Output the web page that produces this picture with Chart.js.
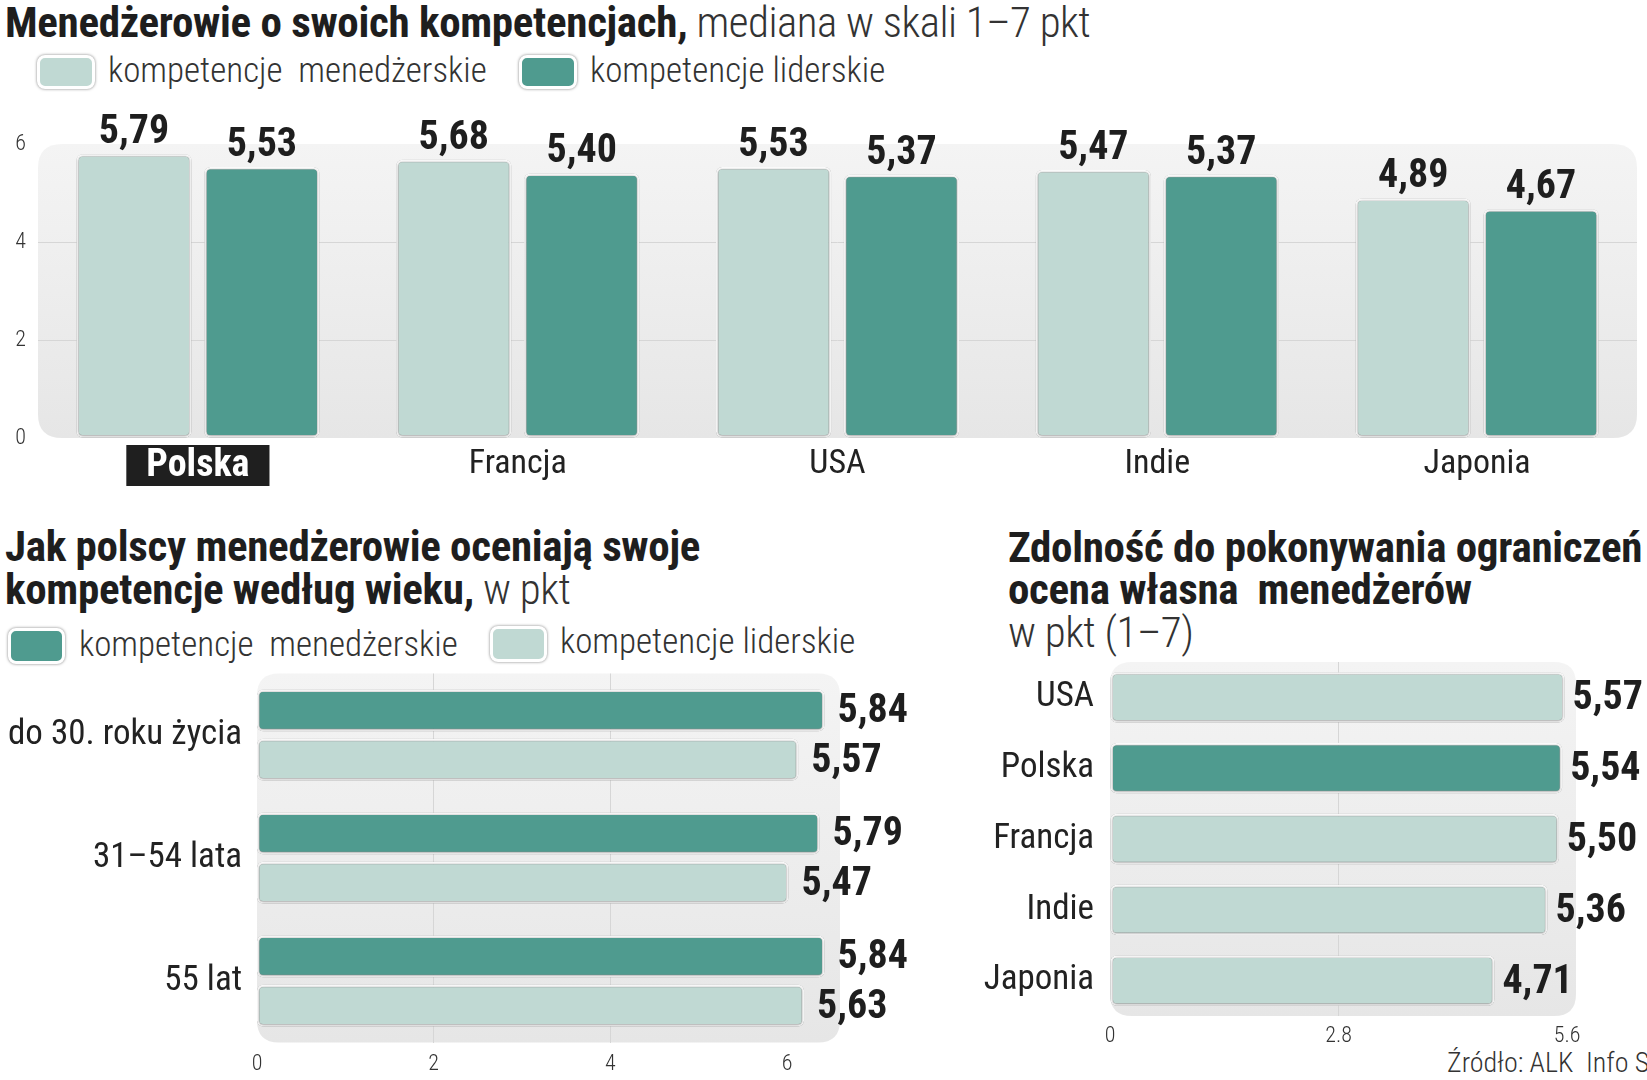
<!DOCTYPE html>
<html><head><meta charset="utf-8">
<script src="https://cdn.jsdelivr.net/npm/chart.js@4.4.1/dist/chart.umd.min.js"></script>
<style>
html,body{margin:0;padding:0;background:#fff;width:1647px;height:1080px;overflow:hidden;}
body{position:relative;font-family:'Roboto Condensed','Roboto',sans-serif;color:#222;}
.abs{position:absolute;white-space:nowrap;line-height:1;}
.t{font-size:43px;font-weight:bold;color:#1e1e1e;letter-spacing:-0.3px;}
.t span{font-weight:300;color:#333;letter-spacing:-0.5px;}
.leg{font-size:35px;font-weight:300;color:#333;}
.box{position:absolute;border-radius:8px;border:3px solid #fff;box-shadow:0 0 3px rgba(0,0,0,.5);box-sizing:border-box;}
canvas{position:absolute;}
</style></head>
<body>
<div class="abs t" style="left:5px;top:1px;">Menedżerowie o swoich kompetencjach,<span> mediana w skali 1–7 pkt</span></div>
<div class="box" style="left:37px;top:55px;width:58px;height:34px;background:#c0d9d3"></div>
<div class="abs leg" style="left:108px;top:53px;">kompetencje&nbsp; menedżerskie</div>
<div class="box" style="left:519px;top:55px;width:58px;height:34px;background:#4f9b8f"></div>
<div class="abs leg" style="left:590px;top:53px;">kompetencje liderskie</div>

<div class="abs t" style="left:5px;top:525px;">Jak polscy menedżerowie oceniają swoje</div>
<div class="abs t" style="left:5px;top:568px;">kompetencje według wieku,<span> w pkt</span></div>
<div class="box" style="left:8px;top:628px;width:57px;height:36px;background:#4f9b8f"></div>
<div class="abs leg" style="left:79px;top:627px;">kompetencje&nbsp; menedżerskie</div>
<div class="box" style="left:490px;top:626px;width:57px;height:36px;background:#c0d9d3"></div>
<div class="abs leg" style="left:560px;top:624px;">kompetencje liderskie</div>

<div class="abs t" style="left:1008px;top:526px;">Zdolność do pokonywania ograniczeń</div>
<div class="abs t" style="left:1008px;top:568px;">ocena własna&nbsp; menedżerów</div>
<div class="abs t" style="left:1008px;top:611px;"><span>w pkt (1–7)</span></div>
<div class="abs" style="left:1447px;top:1049px;font-size:28px;font-weight:300;color:#333;">Źródło: ALK&nbsp; Info S</div>

<canvas id="c1" width="1647" height="410" style="left:0;top:90px;"></canvas>
<canvas id="c2" width="930" height="420" style="left:0;top:660px;"></canvas>
<canvas id="c3" width="717" height="430" style="left:930px;top:650px;"></canvas>

<script>
// ---- data ----
const topCategories = ['Polska', 'Francja', 'USA', 'Indie', 'Japonia'];
const topManagerial = [5.79, 5.68, 5.53, 5.47, 4.89];
const topLeadership = [5.53, 5.40, 5.37, 5.37, 4.67];
const topTicks = [0, 2, 4, 6];

const ageCategories = ['do 30. roku życia', '31–54 lata', '55 lat'];
const ageManagerial = [5.84, 5.79, 5.84];
const ageLeadership = [5.57, 5.47, 5.63];
const ageTicks = [0, 2, 4, 6];

const barrierCategories = ['USA', 'Polska', 'Francja', 'Indie', 'Japonia'];
const barrierValues = [5.57, 5.54, 5.50, 5.36, 4.71];
const barrierTicks = [0, 2.8, 5.6];

const seriesNames = ['kompetencje  menedżerskie', 'kompetencje liderskie'];

// ---- style ----
const F = "'Roboto Condensed','Roboto',sans-serif";
const DARK = '#4f9b8f';
const LIGHT = '#c0d9d3';
const GRID = '#d6d6d6';
const NONE = 'rgba(0,0,0,0)';
Chart.defaults.font.family = F;

function roundRect(ctx, x, y, w, h, r) {
  ctx.beginPath();
  ctx.moveTo(x + r, y);
  ctx.lineTo(x + w - r, y); ctx.quadraticCurveTo(x + w, y, x + w, y + r);
  ctx.lineTo(x + w, y + h - r); ctx.quadraticCurveTo(x + w, y + h, x + w - r, y + h);
  ctx.lineTo(x + r, y + h); ctx.quadraticCurveTo(x, y + h, x, y + h - r);
  ctx.lineTo(x, y + r); ctx.quadraticCurveTo(x, y, x + r, y);
  ctx.closePath();
}
function noPad(s) { s.paddingTop = 0; s.paddingBottom = 0; s.paddingLeft = 0; s.paddingRight = 0; }
const panel = {
  id: 'panel',
  beforeDraw(chart, args, o) {
    const a = chart.chartArea, ctx = chart.ctx;
    ctx.save();
    const g = ctx.createLinearGradient(a.left, a.top, a.left, a.bottom);
    g.addColorStop(0, '#f4f4f4'); g.addColorStop(1, '#e6e6e6');
    ctx.fillStyle = g;
    roundRect(ctx, a.left, a.top, a.right - a.left, a.bottom - a.top, o.radius || 22);
    ctx.fill();
    ctx.restore();
  }
};
const shadow = {
  id: 'shadow',
  beforeDatasetDraw(chart) {
    const ctx = chart.ctx; ctx.save();
    ctx.shadowColor = 'rgba(0,0,0,0.5)'; ctx.shadowBlur = 3; ctx.shadowOffsetY = 0.5;
  },
  afterDatasetDraw(chart) { chart.ctx.restore(); }
};
const valueLabels = {
  id: 'valueLabels',
  afterDatasetsDraw(chart, args, o) {
    const ctx = chart.ctx;
    ctx.save();
    ctx.font = 'bold ' + o.size + 'px ' + F;
    ctx.fillStyle = '#1e1e1e';
    chart.data.datasets.forEach((ds, di) => {
      chart.getDatasetMeta(di).data.forEach((el, i) => {
        const txt = ds.data[i].toFixed(2).replace('.', ',');
        if (o.horizontal) {
          ctx.textAlign = 'left'; ctx.textBaseline = 'middle';
          ctx.fillText(txt, el.x + o.offset, el.y + 2);
        } else {
          ctx.textAlign = 'center'; ctx.textBaseline = 'alphabetic';
          ctx.fillText(txt, el.x, el.y - o.offset);
        }
      });
    });
    ctx.restore();
  }
};
const barStyle = { borderColor: '#fff', borderWidth: 2.5, borderRadius: 6, borderSkipped: false };

// ---- chart 1 ----
new Chart(document.getElementById('c1'), {
  type: 'bar',
  data: {
    labels: topCategories,
    datasets: [
      Object.assign({ label: seriesNames[0], data: topManagerial, backgroundColor: LIGHT }, barStyle),
      Object.assign({ label: seriesNames[1], data: topLeadership, backgroundColor: DARK }, barStyle)
    ]
  },
  options: {
    responsive: false, animation: false,
    layout: { padding: { top: 54, right: 10, left: 0, bottom: 0 } },
    datasets: { bar: { categoryPercentage: 0.8, barPercentage: 0.9 } },
    plugins: { legend: { display: false }, tooltip: { enabled: false },
      valueLabels: { size: 40, offset: 11 }, panel: { radius: 24 } },
    scales: {
      x: {
        grid: { display: false }, border: { display: false },
        ticks: {
          padding: 1,
          font: c => c.index === 0 ? { size: 38, weight: 'bold', family: F, lineHeight: 1 } : { size: 34, family: F, lineHeight: 1 },
          color: c => c.index === 0 ? '#fff' : '#222',
          showLabelBackdrop: c => c.index === 0,
          backdropColor: '#1f1f1f',
          backdropPadding: { top: 2, bottom: 1, left: 20, right: 20 }
        },
        afterFit(s) { s.height = 62; noPad(s); }
      },
      y: {
        min: 0, max: 6,
        afterBuildTicks(s) { s.ticks = topTicks.map(v => ({ value: v })); },
        grid: { color: c => (c.tick && (c.tick.value === 2 || c.tick.value === 4)) ? GRID : NONE, drawTicks: false },
        border: { display: false },
        ticks: { padding: 12, font: { size: 22, weight: 300 }, color: '#333' },
        afterFit(s) { s.width = 38; noPad(s); }
      }
    }
  },
  plugins: [panel, shadow, valueLabels]
});

// ---- chart 2 ----
new Chart(document.getElementById('c2'), {
  type: 'bar',
  data: {
    labels: ageCategories,
    datasets: [
      Object.assign({ label: seriesNames[0], data: ageManagerial, backgroundColor: DARK, xAxisID: 'x' }, barStyle),
      Object.assign({ label: seriesNames[1], data: ageLeadership, backgroundColor: LIGHT, xAxisID: 'x' }, barStyle)
    ]
  },
  options: {
    indexAxis: 'y', responsive: false, animation: false,
    layout: { padding: { top: 13.5, right: 90, left: 0, bottom: 0 } },
    datasets: { bar: { categoryPercentage: 0.8, barPercentage: 0.85 } },
    plugins: { legend: { display: false }, tooltip: { enabled: false },
      valueLabels: { size: 40, offset: 13, horizontal: true }, panel: { radius: 22 } },
    scales: {
      x: { type: 'linear', display: false, min: 0, max: 6 },
      x2: {
        type: 'linear', position: 'bottom', min: 0, max: 6.6,
        afterBuildTicks(s) { s.ticks = ageTicks.map(v => ({ value: v })); },
        grid: { color: c => (c.tick && (c.tick.value === 2 || c.tick.value === 4)) ? GRID : NONE, drawTicks: false },
        border: { display: false },
        ticks: { padding: 9, font: { size: 22, weight: 300 }, color: '#333' },
        afterFit(s) { s.height = 37.5; noPad(s); }
      },
      y: {
        grid: { display: false }, border: { display: false },
        ticks: { padding: 7, font: { size: 35 }, color: '#222' },
        afterFit(s) { s.width = 257; noPad(s); }
      }
    }
  },
  plugins: [panel, shadow, valueLabels]
});

// ---- chart 3 ----
new Chart(document.getElementById('c3'), {
  type: 'bar',
  data: {
    labels: barrierCategories,
    datasets: [
      Object.assign({
        label: 'Zdolność do pokonywania ograniczeń', data: barrierValues,
        backgroundColor: barrierCategories.map(c => c === 'Polska' ? DARK : LIGHT)
      }, barStyle)
    ]
  },
  options: {
    indexAxis: 'y', responsive: false, animation: false,
    layout: { padding: { top: 12, right: 71, left: 0, bottom: 0 } },
    datasets: { bar: { categoryPercentage: 1, barPercentage: 0.71 } },
    plugins: { legend: { display: false }, tooltip: { enabled: false },
      valueLabels: { size: 40, offset: 8, horizontal: true }, panel: { radius: 22 } },
    scales: {
      x: {
        min: 0, max: 5.71,
        afterBuildTicks(s) { s.ticks = barrierTicks.map(v => ({ value: v })); },
        grid: { color: c => (c.tick && c.tick.value === 2.8) ? GRID : NONE, drawTicks: false },
        border: { display: false },
        ticks: { padding: 7, font: { size: 22, weight: 300 }, color: '#333', callback: v => String(v) },
        afterFit(s) { s.height = 64; noPad(s); }
      },
      y: {
        grid: { display: false }, border: { display: false },
        ticks: { padding: 8, font: { size: 35 }, color: '#222' },
        afterFit(s) { s.width = 180; noPad(s); }
      }
    }
  },
  plugins: [panel, shadow, valueLabels]
});
</script>
</body></html>
